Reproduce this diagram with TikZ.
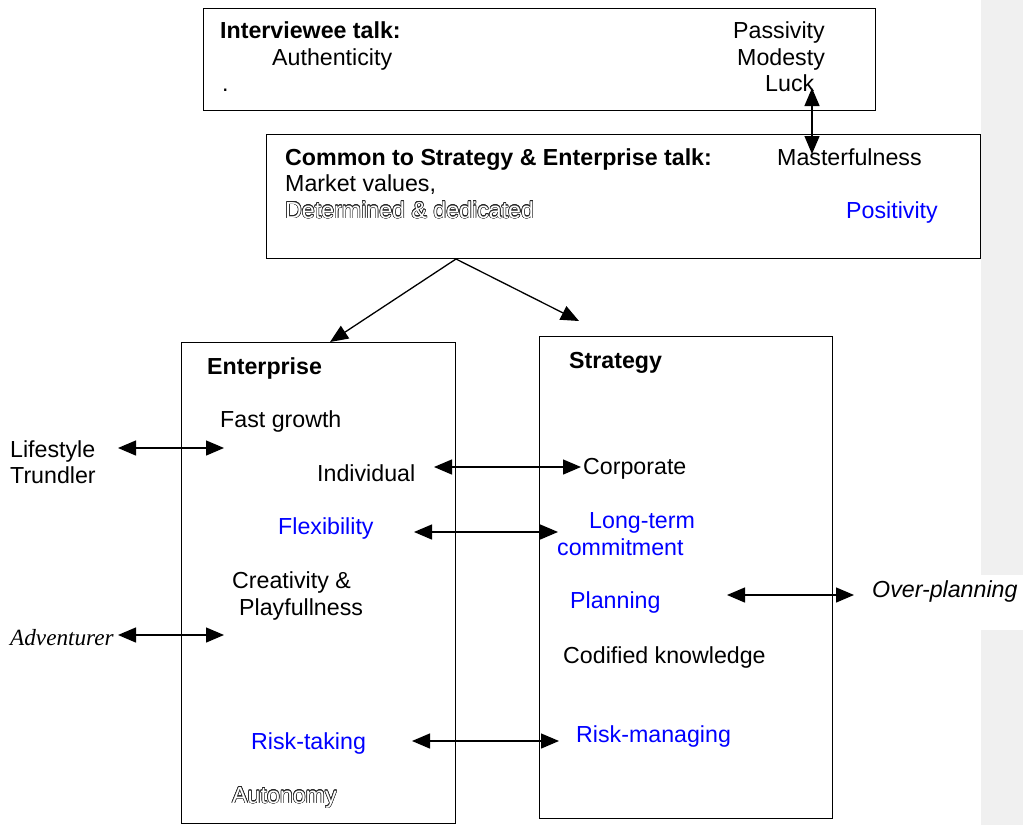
\documentclass[tikz,border=0pt]{standalone}
\usepackage{fontspec}
\setmainfont{Liberation Sans}
\newfontfamily\timesit{Liberation Serif}
\usepackage{contour}
\usetikzlibrary{arrows.meta}
\contourlength{0.55pt}
\newcommand{\hollow}[1]{\contour{black!85}{\textcolor{white}{#1}}}
\definecolor{sidegray}{RGB}{240,240,240}
\definecolor{kwblue}{RGB}{0,0,255}
\tikzset{
  headtip/.tip={Triangle[length=18pt,width=15pt]}
}
\begin{document}
\begin{tikzpicture}[x=1pt,y=-1pt,
  frame/.style={draw, line width=1.3pt, fill=white, anchor=north west, inner sep=0pt},
  lbl/.style={anchor=base west, inner sep=0pt, font=\fontsize{23.2}{27}\selectfont},
  hd/.style={lbl, font=\fontsize{23.2}{27}\selectfont\bfseries},
  kw/.style={lbl, text=kwblue},
  link/.style={line width=1.3pt, headtip-headtip},
  flow/.style={line width=1.3pt, -headtip}]
\useasboundingbox (0,0) rectangle (1023,825);

% margin bands on the right
\fill[sidegray] (981,0) rectangle (1023,575);
\fill[sidegray] (981,630) rectangle (1023,825);

% boxes
\node[frame, minimum width=672pt, minimum height=102pt] (talk) at (203,8) {};
\node[frame, minimum width=714pt, minimum height=124pt] (common) at (266,134) {};
\node[frame, minimum width=274pt, minimum height=481pt] (ent) at (181,342) {};
\node[frame, minimum width=293pt, minimum height=482pt] (strat) at (539,336) {};

% interviewee talk
\node[hd] (ivt) at (220,38) {Interviewee talk:};
\node[lbl] (auth) at (272,65) {Authenticity};
\node[lbl] (dot) at (222,91) {.};
\node[lbl] (pass) at (733,38) {Passivity};
\node[lbl] (mod) at (737,65) {Modesty};
\node[lbl] (luck) at (765,91) {Luck};

% common talk
\node[hd] (cmn) at (285,165) {Common to Strategy \& Enterprise talk:};
\node[lbl] (mast) at (777,165) {Masterfulness};
\node[lbl] (mkt) at (285,191) {Market values,};
\node[lbl] (det) at (285,218) {\hollow{Determined \& dedicated}};
\node[kw] (pos) at (846,218) {Positivity};

% enterprise
\node[hd] (enth) at (207,374) {Enterprise};
\node[lbl] (fast) at (220,427) {Fast growth};
\node[lbl] (indiv) at (317,481) {Individual};
\node[kw] (flex) at (278,534) {Flexibility};
\node[lbl] (crea) at (232,588) {Creativity \&};
\node[lbl] (play) at (239,615) {Playfullness};
\node[kw] (rtake) at (251,749) {Risk-taking};
\node[lbl] (auto) at (232,803) {\hollow{Autonomy}};

% strategy
\node[hd] (strh) at (569,368) {Strategy};
\node[lbl] (corp) at (583,474) {Corporate};
\node[kw] (long) at (589,528) {Long-term};
\node[kw] (comm) at (557,555) {commitment};
\node[kw] (plan) at (570,608) {Planning};
\node[lbl] (cod) at (563,663) {Codified knowledge};
\node[kw] (rman) at (576,742) {Risk-managing};

% outside labels
\node[lbl] (life) at (10,457) {Lifestyle};
\node[lbl] (trun) at (10,483) {Trundler};
\node[lbl, font=\fontsize{23.2}{27}\timesit\itshape] (adv) at (10,645) {Adventurer};
\node[lbl, font=\fontsize{23.2}{27}\selectfont\itshape] (over) at (872,597) {Over-planning};

% connector ends
\coordinate (luckA) at (812,88);
\coordinate (mastA) at (812,154);
\coordinate (split) at (456,259);
\coordinate (entIn) at (330,342);
\coordinate (strIn) at (579,321);
\coordinate (lifeR) at (118,448);
\coordinate (fastL) at (224,448);
\coordinate (indR) at (434,467);
\coordinate (corpL) at (581,467);
\coordinate (flexR) at (414,532);
\coordinate (longL) at (558,532);
\coordinate (planR) at (727,595);
\coordinate (overL) at (854,595);
\coordinate (advR) at (118,635);
\coordinate (creaL) at (224,635);
\coordinate (riskR) at (412,741);
\coordinate (rmanL) at (559,741);

% connectors
\draw[link] (luckA) -- (mastA);
\draw[flow] (split) -- (entIn);
\draw[flow] (split) -- (strIn);
\draw[link] (lifeR) -- (fastL);
\draw[link] (indR) -- (corpL);
\draw[link] (flexR) -- (longL);
\draw[link] (planR) -- (overL);
\draw[link] (advR) -- (creaL);
\draw[link] (riskR) -- (rmanL);
\end{tikzpicture}
\end{document}
